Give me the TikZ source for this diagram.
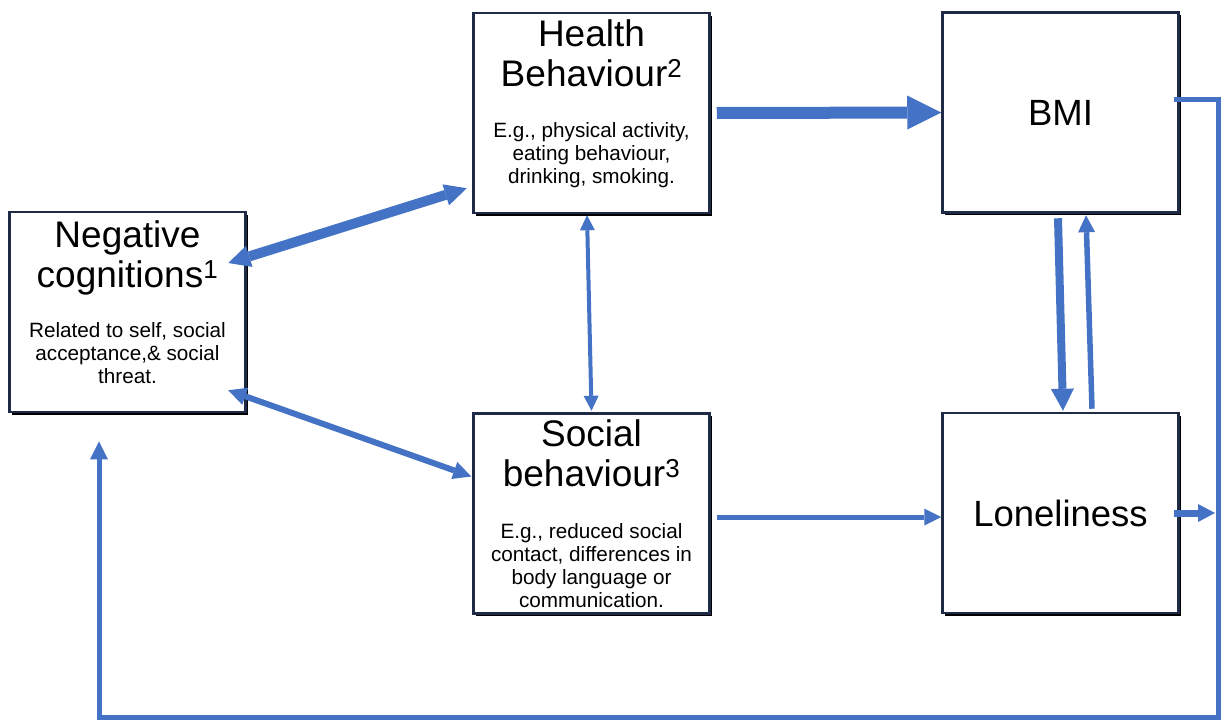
\documentclass[tikz,border=0pt]{standalone}
\usepackage{fontspec}
\setmainfont{Liberation Sans}
\usepackage{xcolor}
\usepackage{tikz}
\usetikzlibrary{arrows.meta, positioning, calc, shadows}
\definecolor{boxedge}{RGB}{30,42,70}
\definecolor{linkblue}{RGB}{68,114,196}

\begin{document}
\begin{tikzpicture}[
    x=1pt, y=-1pt,
    factor/.style={rectangle, draw=boxedge, line width=2.5pt, fill=white,
                   minimum width=236pt, minimum height=200pt, inner sep=0pt,
                   drop shadow={shadow xshift=2.5pt, shadow yshift=-2.5pt,
                                fill=black, opacity=1},
                   font=\fontsize{36.5}{40}\selectfont},
    heading/.style={font=\fontsize{37}{40}\selectfont, align=center, inner sep=0pt},
    detail/.style={font=\fontsize{20.7}{23}\selectfont, align=center, inner sep=0pt},
    link/.style={draw=linkblue, line join=miter}
]
\useasboundingbox (0,0) rectangle (1221,720);
\node[factor] (neg) at (127.5,312) {};
\node[factor] (hb) at (591.5,113) {};
\node[factor] (sb) at (591.5,513.5) {};
\node[factor] (bmi) at (1060.5,112.5) {BMI};
\node[factor] (lon) at (1060.5,513) {Loneliness};
\node[heading, below=9.4pt of neg.north] (negHead) {Negative\\cognitions\textsuperscript{1}};
\node[detail, below=111.1pt of neg.north] (negText) {Related to self, social\\acceptance,\& social\\threat.};
\node[heading, below=7.4pt of hb.north] (hbHead) {Health\\Behaviour\textsuperscript{2}};
\node[detail, below=110.1pt of hb.north] (hbText) {E.g., physical activity,\\eating behaviour,\\drinking, smoking.};
\node[heading, below=7.4pt of sb.north] (sbHead) {Social\\behaviour\textsuperscript{3}};
\node[detail, below=111.1pt of sb.north] (sbText) {E.g., reduced social\\contact, differences in\\body language or\\communication.};
\coordinate (fbBR) at (1218,717);
\coordinate (fbBL) at (99,717);
% links between the factors
\draw[link, line width=10pt, {Triangle[length=22pt,width=22pt,line width=0pt]}-{Triangle[length=22pt,width=22pt,line width=0pt]}]
    ($(neg.east)+(-18.5,-49)$) -- ($(hb.south west)+(-5.5,-26)$);
\draw[link, line width=6pt, {Triangle[length=18pt,width=18pt,line width=0pt]}-{Triangle[length=18pt,width=18pt,line width=0pt]}]
    ($(neg.south east)+(-18.5,-23)$) -- ($(sb.west)+(-1,-37)$);
\draw[link, line width=4pt, {Triangle[length=15pt,width=15pt,line width=0pt]}-{Triangle[length=15pt,width=15pt,line width=0pt]}]
    ($(hb.south)+(-4.5,1)$) -- ($(sb.north)+(0,-1.5)$);
\draw[link, line width=12pt, -{Triangle[length=34pt,width=34pt,line width=0pt]}]
    ($(hb.east)+(6,0)$) -- (bmi.west);
\draw[link, line width=5pt, -{Triangle[length=17pt,width=17pt,line width=0pt]}]
    ($(sb.east)+(6,3.5)$) -- ($(lon.west)+(0,4)$);
\draw[link, line width=8pt, -{Triangle[length=22pt,width=23pt,line width=0pt]}]
    ($(bmi.south)+(-2.5,4.5)$) -- ($(lon.north)+(2.5,-1)$);
\draw[link, line width=5.5pt, -{Triangle[length=17pt,width=17pt,line width=0pt]}]
    ($(lon.north)+(31.5,-3)$) -- ($(bmi.south)+(25.5,1.5)$);
\draw[link, line width=7pt, -{Triangle[length=17pt,width=18pt,line width=0pt]}]
    ($(lon.east)+(-5.5,0)$) -- ($(lon.east -| fbBR)+(-3,0)$);
% feedback loop
\draw[link, line width=5pt, -{Triangle[length=18pt,width=18pt,line width=0pt]}]
    ($(bmi.east)+(-6,-13.5)$) -| (fbBR) -- (fbBL) -- ($(neg.south -| fbBL)+(0,28)$);
\end{tikzpicture}
\end{document}
